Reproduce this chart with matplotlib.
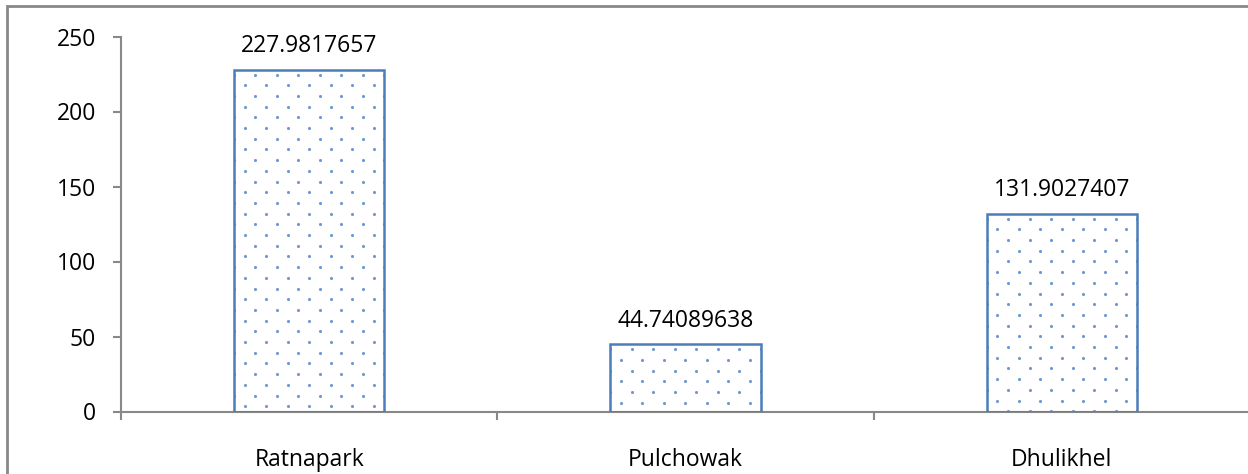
import numpy as np
import matplotlib
matplotlib.use("Agg")
import matplotlib.pyplot as plt
from matplotlib.patches import Rectangle

# station averages
sites = ["Ratnapark", "Pulchowak", "Dhulikhel"]
values = [227.9817657, 44.74089638, 131.9027407]
yticks = [0, 50, 100, 150, 200, 250]

plt.rcParams['font.family'] = ['Open Sans', 'DejaVu Sans']

W, H = 1248, 474
fig = plt.figure(figsize=(W / 100, H / 100), dpi=100)
fig.patch.set_facecolor('white')
ax = fig.add_axes([121 / W, 62.5 / H, 1129 / W, 375 / H])

gray = '#888888'
blue = '#4a7ebb'
dotblue = '#6f97d2'
fs = 16.5

pos = np.arange(len(sites))
bars = ax.bar(pos, values, width=0.4, facecolor='none', edgecolor=blue,
              linewidth=1.8, zorder=3)

ax.set_xlim(-0.5, len(sites) - 0.5)
ax.set_ylim(0, 250)

# dotted fill for each bar, laid out in pixels from the bar's top-left corner
dx, dy = 21.5, 10.7
inv = ax.transData.inverted()
for b in bars:
    (x0, y0), (x1, y1) = ax.transData.transform([(b.get_x(), 0),
                                                 (b.get_x() + b.get_width(), b.get_height())])
    pts = []
    row = 0
    y = y1 - 5
    while y > y0 - dy:
        shift = 0 if row % 2 == 0 else dx / 2
        x = x0 + shift
        while x < x1 + dx:
            pts.append((x, y))
            x += dx
        y -= dy
        row += 1
    pts = inv.transform(np.array(pts))
    sc = ax.scatter(pts[:, 0], pts[:, 1], s=5, color=dotblue, linewidths=0, zorder=2)
    sc.set_clip_path(b)

for b, v in zip(bars, values):
    ax.annotate(f"{v:.10g}", (b.get_x() + b.get_width() / 2, v),
                xytext=(0, 12.5), textcoords='offset points',
                ha='center', va='baseline', fontsize=fs)

ax.set_yticks(yticks)
ax.set_xticks(pos)
ax.set_xticklabels(sites)
ax.set_xticks(np.arange(-0.5, len(sites)), minor=True)
ax.tick_params(axis='x', which='major', length=0, pad=26, labelsize=fs)
ax.tick_params(axis='x', which='minor', length=6, width=1.5, color=gray, direction='out')
ax.tick_params(axis='y', length=6, width=1.5, color=gray, pad=12, labelsize=fs)

for s in ['top', 'right']:
    ax.spines[s].set_visible(False)
for s in ['left', 'bottom']:
    ax.spines[s].set_color(gray)
    ax.spines[s].set_linewidth(1.5)

# chart area border
fig.patches.append(Rectangle((7 / W, -0.1), 2, (H - 6) / H + 0.1,
                             transform=fig.transFigure, fill=False,
                             edgecolor=gray, linewidth=2))

fig.savefig("out.png", dpi=100)
